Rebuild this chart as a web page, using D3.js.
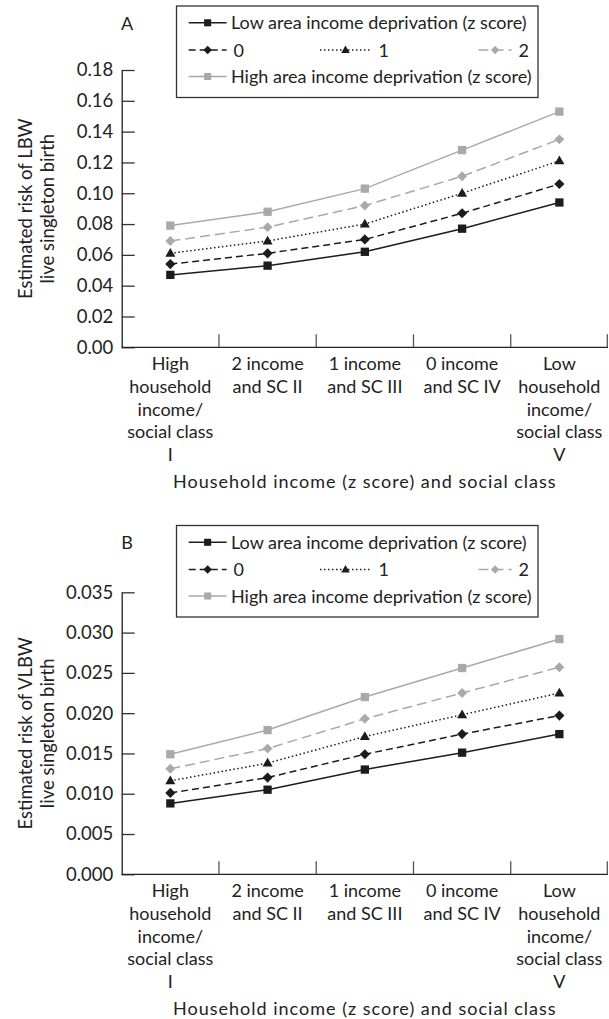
<!DOCTYPE html>
<html>
<head>
<meta charset="utf-8">
<script src="https://cdn.jsdelivr.net/npm/d3@7"></script>
<style>
  body { margin: 0; background: #fff; }
  text { font-family: Lato, "DejaVu Sans", sans-serif; fill: #222; }
</style>
</head>
<body>
<div id="chart-area"></div>
<script>
// categories (x axis labels, one line per entry)
var categories = ["c1", "c2", "c3", "c4", "c5"]
var categoryLines = [
    ["High", "household", "income/", "social class", "I"],
    ["2 income", "and SC II"],
    ["1 income", "and SC III"],
    ["0 income", "and SC IV"],
    ["Low", "household", "income/", "social class", "V"]
]
var seriesNames = ["Low area income deprivation (z score)", "0", "1", "2",
                   "High area income deprivation (z score)"]

// panel A - LBW
var lbwLow  = [0.047, 0.053, 0.062, 0.077, 0.094]
var lbw0    = [0.054, 0.061, 0.070, 0.087, 0.106]
var lbw1    = [0.061, 0.069, 0.080, 0.100, 0.121]
var lbw2    = [0.069, 0.078, 0.092, 0.111, 0.135]
var lbwHigh = [0.079, 0.088, 0.103, 0.128, 0.153]
var lbwTicks = [0, 0.02, 0.04, 0.06, 0.08, 0.10, 0.12, 0.14, 0.16, 0.18]

// panel B - VLBW
var vlbwLow  = [0.0088, 0.0105, 0.0130, 0.0151, 0.0174]
var vlbw0    = [0.0101, 0.0120, 0.0149, 0.0174, 0.0197]
var vlbw1    = [0.0116, 0.0138, 0.0171, 0.0198, 0.0225]
var vlbw2    = [0.0131, 0.0156, 0.0193, 0.0225, 0.0257]
var vlbwHigh = [0.0149, 0.0179, 0.0220, 0.0256, 0.0292]
var vlbwTicks = [0, 0.005, 0.010, 0.015, 0.020, 0.025, 0.030, 0.035]

var black = "#1c1c1c", grey = "#a9a9a9"
var fontSize = 18

// line / marker style per series
var styles = [
    { color: black, dash: null,      shape: "square",   size: 8.3 },
    { color: black, dash: "7,4",     shape: "diamond",  size: 7.2 },
    { color: black, dash: "1.5,2.5", shape: "triangle", size: 44 },
    { color: grey,  dash: "10,5",    shape: "diamond",  size: 7.0 },
    { color: grey,  dash: null,      shape: "square",   size: 8.3 }
]

var svg = d3.select("#chart-area")
    .append("svg")
        .attr("width", 609)
        .attr("height", 1019)

var x = d3.scaleBand()
    .domain(categories)
    .range([121.7, 608])
    .padding(0)

function marker(g, st, cx, cy, scale) {
    var s = st.size * scale
    if (st.shape == "square") {
        g.append("rect")
            .attr("x", cx - s / 2).attr("y", cy - s / 2)
            .attr("width", s).attr("height", s)
            .attr("fill", st.color)
    } else if (st.shape == "diamond") {
        g.append("rect")
            .attr("x", -s / 2).attr("y", -s / 2)
            .attr("width", s).attr("height", s)
            .attr("fill", st.color)
            .attr("transform", "translate(" + cx + "," + cy + ") rotate(45)")
    } else {
        g.append("path")
            .attr("d", d3.symbol(d3.symbolTriangle, s * scale)())
            .attr("fill", st.color)
            .attr("transform", "translate(" + cx + "," + (cy + 0.5) + ")")
    }
}

function drawPanel(opt) {
    var g = svg.append("g")
    var y = d3.scaleLinear()
        .domain([0, opt.max])
        .range([opt.bottom, opt.top])

    // Y Axis (ticks point inward)
    var yAxisCall = d3.axisLeft(y)
        .tickValues(opt.ticks)
        .tickFormat(d3.format(opt.fmt))
        .tickSizeInner(-13)
        .tickSizeOuter(0)
        .tickPadding(8.4)
    var ya = g.append("g")
        .attr("class", "y axis")
        .attr("transform", "translate(" + x.range()[0] + ",0)")
        .call(yAxisCall)
    ya.select(".domain").attr("stroke", "#222").attr("stroke-width", 1.3)
    ya.selectAll(".tick line").attr("stroke", "#333").attr("stroke-width", 1.3)
    ya.selectAll("text")
        .attr("font-size", (fontSize + 0.5) + "px")
        .attr("font-family", "Lato, sans-serif")
        .attr("fill", "#222")

    // X Axis line + category boundary ticks
    g.append("line")
        .attr("x1", x.range()[0]).attr("x2", x.range()[1])
        .attr("y1", opt.bottom).attr("y2", opt.bottom)
        .attr("stroke", "#222").attr("stroke-width", 1.3)
    var bounds = categories.map(function(c) { return x(c) }).slice(1)
    bounds.push(x.range()[1] - 0.7)
    g.selectAll(".xtick")
        .data(bounds)
        .enter().append("line")
            .attr("x1", function(d) { return d }).attr("x2", function(d) { return d })
            .attr("y1", opt.bottom).attr("y2", opt.bottom - 13)
            .attr("stroke", "#555").attr("stroke-width", 1.3)

    // category labels
    categoryLines.forEach(function(lines, i) {
        var t = g.append("text")
            .attr("text-anchor", "middle")
            .attr("font-size", fontSize + "px")
        lines.forEach(function(l, j) {
            t.append("tspan")
                .attr("x", x(categories[i]) + x.bandwidth() / 2)
                .attr("y", opt.bottom + 23 + j * 22.6)
                .text(l)
        })
    })

    // X Label
    g.append("text")
        .attr("x", (x.range()[0] + x.range()[1]) / 2)
        .attr("y", opt.bottom + 141)
        .attr("text-anchor", "middle")
        .attr("font-size", fontSize + "px")
        .attr("letter-spacing", "1px")
        .text("Household income (z score) and social class")

    // Y Label
    var mid = (opt.top + opt.bottom) / 2
    opt.yLabel.forEach(function(l, j) {
        g.append("text")
            .attr("transform", "translate(" + (31.5 + j * 22.6) + "," + mid + ") rotate(-90)")
            .attr("text-anchor", "middle")
            .attr("font-size", (fontSize + 0.5) + "px")
            .text(l)
    })

    // series lines and markers
    opt.series.forEach(function(vals, i) {
        var st = styles[i]
        var line = d3.line()
            .x(function(d, k) { return x(categories[k]) + x.bandwidth() / 2 })
            .y(function(d) { return y(d) })
        g.append("path")
            .attr("d", line(vals))
            .attr("fill", "none")
            .attr("stroke", st.color)
            .attr("stroke-width", 1.5)
            .attr("stroke-dasharray", st.dash)
        vals.forEach(function(v, k) {
            marker(g, st, x(categories[k]) + x.bandwidth() / 2, y(v), 1)
        })
    })

    // panel letter
    g.append("text")
        .attr("x", 127).attr("y", opt.legendTop + 23.5)
        .attr("text-anchor", "middle")
        .attr("font-size", fontSize + "px")
        .text(opt.letter)

    // legend
    var lg = g.append("g").attr("transform", "translate(0," + opt.legendTop + ")")
    lg.append("rect")
        .attr("x", 176.5).attr("y", 0)
        .attr("width", 361.5).attr("height", 91.5)
        .attr("fill", "#fff")
        .attr("stroke", "#333").attr("stroke-width", 1.3)
    var entries = [
        { s: 0, x1: 188.7, x2: 226.6, tx: 231, row: 0 },
        { s: 1, x1: 188.7, x2: 226.6, tx: 233.5, row: 1 },
        { s: 2, x1: 320, x2: 371, tx: 378.5, row: 1 },
        { s: 3, x1: 478.5, x2: 511.7, tx: 518.5, row: 1 },
        { s: 4, x1: 188.7, x2: 226.6, tx: 231, row: 2 }
    ]
    var rowY = [16.8, 44, 70.5]
    entries.forEach(function(e) {
        var st = styles[e.s]
        var cy = rowY[e.row]
        lg.append("line")
            .attr("x1", e.x1).attr("x2", e.x2)
            .attr("y1", cy).attr("y2", cy)
            .attr("stroke", st.color).attr("stroke-width", 1.5)
            .attr("stroke-dasharray", st.dash)
        marker(lg, st, (e.x1 + e.x2) / 2, cy, 0.85)
        lg.append("text")
            .attr("x", e.tx).attr("y", cy + 6.5)
            .attr("font-size", fontSize + "px")
            .text(seriesNames[e.s])
    })
}

drawPanel({
    letter: "A", legendTop: 6, top: 70, bottom: 347.3, max: 0.18,
    ticks: lbwTicks, fmt: ".2f",
    yLabel: ["Estimated risk of LBW", "live singleton birth"],
    series: [lbwLow, lbw0, lbw1, lbw2, lbwHigh]
})

drawPanel({
    letter: "B", legendTop: 525.5, top: 592.3, bottom: 874.3, max: 0.035,
    ticks: vlbwTicks, fmt: ".3f",
    yLabel: ["Estimated risk of VLBW", "live singleton birth"],
    series: [vlbwLow, vlbw0, vlbw1, vlbw2, vlbwHigh]
})
</script>
</body>
</html>
